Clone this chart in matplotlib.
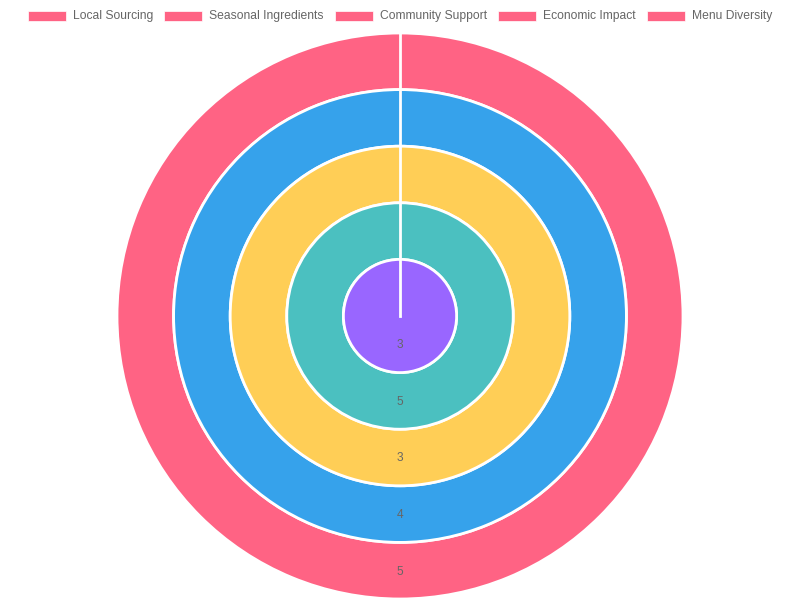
import matplotlib.pyplot as plt
from matplotlib.patches import Rectangle

W, H = 800, 600

categories = ["Local Sourcing", "Seasonal Ingredients", "Community Support",
              "Economic Impact", "Menu Diversity"]
values = [5, 4, 3, 5, 3]
colors = ["#FF6384", "#36A2EB", "#FFCE56", "#4BC0C0", "#9966FF"]

CENTER = (400, H - 316)
OUTER_R = 283
TEXT_COLOR = "#666666"

plt.rcParams["font.family"] = ["Liberation Sans", "DejaVu Sans"]


def draw_rings(ax):
    n = len(values)
    ring_w = OUTER_R / n
    for i, (val, col) in enumerate(zip(values, colors)):
        r = OUTER_R - i * ring_w
        w = ring_w if i < n - 1 else r
        ax.pie([val], radius=r, center=CENTER, colors=[col], startangle=90,
               counterclock=False, pctdistance=(r - w / 2 + 1) / r,
               autopct=lambda p, v=val: str(v),
               textprops={"color": TEXT_COLOR, "fontsize": 8.6},
               wedgeprops={"width": w, "edgecolor": "white", "linewidth": 2})
    # start/end seam of every arc
    ax.plot([CENTER[0], CENTER[0]], [CENTER[1], CENTER[1] + OUTER_R],
            color="white", lw=2, zorder=5)


def draw_legend(fig, ax):
    renderer = fig.canvas.get_renderer()
    box_w, box_h, gap, pad = 38, 10, 7, 11
    texts, widths = [], []
    for name in categories:
        t = ax.text(0, 0, name, fontsize=8.7, color=TEXT_COLOR, va="center")
        texts.append(t)
        widths.append(t.get_window_extent(renderer).width)
    total = sum(box_w + gap + w for w in widths) + pad * (len(categories) - 1)
    x = (W - total) / 2
    y = H - 16
    for t, w in zip(texts, widths):
        ax.add_patch(Rectangle((x, y - box_h / 2), box_w, box_h,
                               facecolor=colors[0], edgecolor="white", lw=0.5))
        t.set_position((x + box_w + gap, y))
        x += box_w + gap + w + pad


def run():
    fig = plt.figure(figsize=(8, 6), dpi=100)
    ax = fig.add_axes([0, 0, 1, 1])
    draw_rings(ax)
    ax.set_xlim(0, W)
    ax.set_ylim(0, H)
    ax.set_aspect("equal")
    ax.axis("off")
    draw_legend(fig, ax)
    fig.savefig("out.png", dpi=100)


if __name__ == "__main__":
    run()
